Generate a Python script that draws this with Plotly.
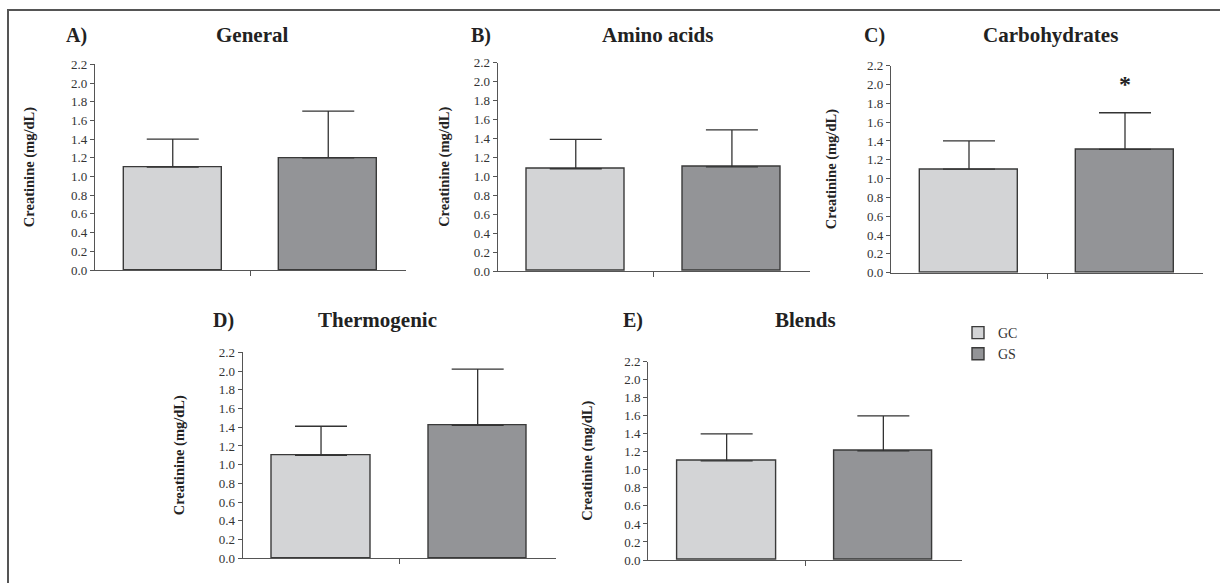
import plotly.graph_objects as go

W, H = 1220, 583

# ---- data ----
groups = ["GC", "GS"]
panel_letters = ["A)", "B)", "C)", "D)", "E)"]
panel_titles = ["General", "Amino acids", "Carbohydrates", "Thermogenic", "Blends"]
gc_mean = [1.10, 1.08, 1.10, 1.10, 1.10]
gc_sd = [0.30, 0.31, 0.30, 0.31, 0.30]
gs_mean = [1.20, 1.10, 1.31, 1.42, 1.21]
gs_sd = [0.50, 0.39, 0.39, 0.60, 0.39]
significant = [False, False, True, False, False]
y_ticks = [0.0, 0.2, 0.4, 0.6, 0.8, 1.0, 1.2, 1.4, 1.6, 1.8, 2.0, 2.2]
y_label = "Creatinine (mg/dL)"

# ---- layout (pixel boxes of each panel's plot area) ----
boxes = [
    (95, 406, 64.3, 270),
    (497.7, 810, 62.7, 271),
    (891, 1203, 65.7, 272.7),
    (242.7, 556, 352.3, 558.3),
    (648.3, 961.7, 361.7, 560),
]
letter_pos = [(76, 35), (481, 35), (874, 35), (223, 320), (633, 320)]
title_pos = [(252, 35), (657, 35), (1050, 35), (377, 320), (805, 320)]
ylab_x = [29, 445, 831, 179, 588]

colors = {"GC": "#d3d4d6", "GS": "#939497"}
means = {"GC": gc_mean, "GS": gs_mean}
sds = {"GC": gc_sd, "GS": gs_sd}

SERIF = "Liberation Serif, Times New Roman, serif"
INK = "#333333"

def fx(p):
    return p / W

def fy(p):
    return 1 - p / H

fig = go.Figure()
layout = {}
annotations = []

for i in range(5):
    sfx = "" if i == 0 else str(i + 1)
    xa, ya = "x" + sfx, "y" + sfx
    for g in groups:
        fig.add_trace(go.Bar(
            x=[groups.index(g)],
            y=[means[g][i]],
            name=g,
            legendgroup=g,
            showlegend=(i == 0),
            width=0.63,
            marker=dict(color=colors[g], line=dict(color="#3a3a3a", width=1.4)),
            error_y=dict(type="data", symmetric=False, array=[sds[g][i]],
                         arrayminus=[0], color=INK, thickness=1.3, width=26),
            xaxis=xa, yaxis=ya,
        ))
    x0, x1, y0, y1 = boxes[i]
    layout["xaxis" + sfx] = dict(
        domain=[fx(x0), fx(x1)], anchor=ya, range=[-0.5, 1.5], automargin=False,
        showgrid=False, zeroline=False, showline=True, linecolor="#555555", linewidth=1.3,
        tickmode="array", tickvals=[0.5], ticktext=[""], ticks="outside",
        ticklen=5, tickcolor="#555555", tickwidth=1.2, fixedrange=True,
    )
    layout["yaxis" + sfx] = dict(
        domain=[fy(y1), fy(y0)], anchor=xa, range=[0, 2.2], automargin=False,
        showgrid=False, zeroline=False, showline=True, linecolor="#555555", linewidth=1.3,
        tickmode="array", tickvals=y_ticks, tickformat=".1f", ticks="outside",
        ticklen=4, tickcolor="#555555", tickwidth=1.2,
        tickfont=dict(family=SERIF, size=13, color=INK), fixedrange=True,
    )
    lx, ly = letter_pos[i]
    annotations.append(dict(text="<b>%s</b>" % panel_letters[i], xref="paper", yref="paper",
                            x=fx(lx), y=fy(ly), xanchor="center", yanchor="middle", showarrow=False,
                            font=dict(family=SERIF, size=20, color="#222222")))
    tx, ty = title_pos[i]
    annotations.append(dict(text="<b>%s</b>" % panel_titles[i], xref="paper", yref="paper",
                            x=fx(tx), y=fy(ty), xanchor="center", yanchor="middle", showarrow=False,
                            font=dict(family=SERIF, size=21, color="#222222")))
    annotations.append(dict(text="<b>%s</b>" % y_label, xref="paper", yref="paper",
                            x=fx(ylab_x[i]), y=fy((y0 + y1) / 2), xanchor="center", yanchor="middle",
                            textangle=-90, showarrow=False,
                            font=dict(family=SERIF, size=14.5, color="#222222")))
    if significant[i]:
        annotations.append(dict(text="<b>*</b>", xref=xa, yref=ya,
                                x=groups.index("GS"), y=gs_mean[i] + gs_sd[i] + 0.31,
                                xanchor="center", yanchor="middle", showarrow=False,
                                font=dict(family=SERIF, size=24, color="#222222")))

layout["annotations"] = annotations
layout["shapes"] = [dict(type="rect", xref="paper", yref="paper",
                         x0=fx(8), x1=1.02, y0=-0.02, y1=fy(10),
                         line=dict(color="#555555", width=2), fillcolor="rgba(0,0,0,0)")]

fig.update_layout(**layout)
fig.update_layout(
    template="none",
    width=W, height=H, autosize=False,
    margin=dict(l=0, r=0, t=0, b=0, pad=0),
    paper_bgcolor="white", plot_bgcolor="white",
    bargap=0,
    legend=dict(x=fx(958), y=fy(317), xanchor="left", yanchor="top",
                font=dict(family=SERIF, size=14, color=INK),
                bgcolor="rgba(0,0,0,0)", tracegroupgap=0),
)

fig.write_html("out.html", config={"displayModeBar": False},
               post_script="document.body.style.margin='0';document.body.style.overflow='hidden';")
